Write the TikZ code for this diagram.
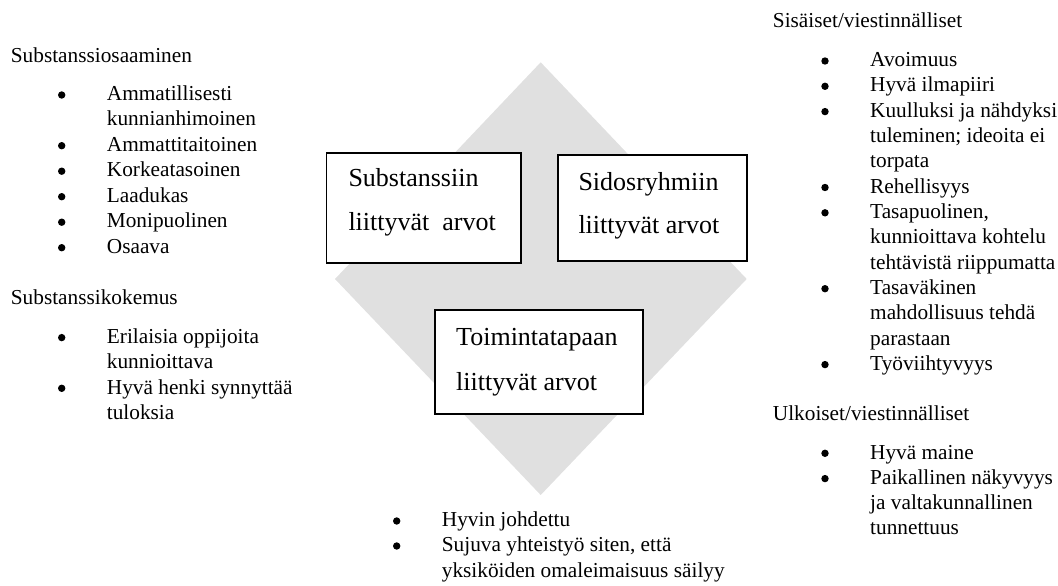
\documentclass[tikz,border=0pt]{standalone}
\usepackage{fontspec}
\setmainfont{Liberation Serif}
\begin{document}
\begin{tikzpicture}[x=1pt,y=-1pt,
  txt/.style={anchor=base west, inner sep=0, font=\fontsize{21.3}{25.3}\selectfont},
  bul/.style={circle, fill=black, inner sep=0, minimum size=7.4},
  box/.style={draw=black, line width=1.8, fill=white, inner sep=0, anchor=north west},
  boxtxt/.style={anchor=base west, inner sep=0},
  dia/.style={fill=black!12, draw=none}]
\useasboundingbox (0,0) rectangle (1058,586);
\newcommand\twol[2]{\vtop{\hbox{#1}\hbox{#2}}}
\newcommand\threel[3]{\vtop{\hbox{#1}\hbox{#2}\hbox{#3}}}
% diamond
\coordinate (dT) at (540.7,62.3);
\coordinate (dR) at (746.7,279);
\coordinate (dB) at (540.7,495);
\coordinate (dL) at (335,279);
\fill[dia] (dT) -- (dR) -- (dB) -- (dL) -- cycle;
% boxes
\node[box, minimum width=194.5, minimum height=109.4] (b1) at (325.5,152.3) {};
\node[boxtxt, font=\fontsize{26}{44}\selectfont] (b1t) at (348.3,186.7) {\twol{Substanssiin}{liittyvät\ \ arvot}};
\node[box, minimum width=189, minimum height=106] (b2) at (556.7,154) {};
\node[boxtxt, font=\fontsize{26}{43.3}\selectfont] (b2t) at (578.3,190) {\twol{Sidosryhmiin}{liittyvät arvot}};
\node[box, minimum width=208.3, minimum height=104] (b3) at (434,309.3) {};
\node[boxtxt, font=\fontsize{26}{45}\selectfont] (b3t) at (456,345) {\twol{Toimintatapaan}{liittyvät arvot}};
% left column
\node[txt] (h1) at (10.7,62.7) {Substanssiosaaminen};
\node[txt] (l1) at (106.7,100.7) {\twol{Ammatillisesti}{kunnianhimoinen}};
\node[txt] (l2) at (106.7,151.4) {Ammattitaitoinen};
\node[txt] (l3) at (106.7,176.9) {Korkeatasoinen};
\node[txt] (l4) at (106.7,202.4) {Laadukas};
\node[txt] (l5) at (106.7,227.9) {Monipuolinen};
\node[txt] (l6) at (106.7,253.4) {Osaava};
\foreach \y [count=\i] in {100.7,151.4,176.9,202.4,227.9,253.4}
  \node[bul] (lb\i) at (61.7,\y-5.7) {};
\node[txt] (h2) at (10.7,304) {Substanssikokemus};
\node[txt] (m1) at (106.7,343.3) {\twol{Erilaisia oppijoita}{kunnioittava}};
\node[txt] (m2) at (106.7,394) {\twol{Hyvä henki synnyttää}{tuloksia}};
\foreach \y [count=\i] in {343.3,394}
  \node[bul] (mb\i) at (61.7,\y-5.7) {};
% right column
\node[txt] (h3) at (772.7,27.3) {Sisäiset/viestinnälliset};
\node[txt] (r1) at (870,66.7) {Avoimuus};
\node[txt] (r2) at (870,92) {Hyvä ilmapiiri};
\node[txt] (r3) at (870,117.3) {\threel{Kuulluksi ja nähdyksi}{tuleminen; ideoita ei}{torpata}};
\node[txt] (r4) at (870,193.2) {Rehellisyys};
\node[txt] (r5) at (870,218.5) {\threel{Tasapuolinen,}{kunnioittava kohtelu}{tehtävistä riippumatta}};
\node[txt] (r6) at (870,294.4) {\threel{Tasaväkinen}{mahdollisuus tehdä}{parastaan}};
\node[txt] (r7) at (870,370.3) {Työviihtyvyys};
\foreach \y [count=\i] in {66.7,92,117.3,193.2,218.5,294.4,370.3}
  \node[bul] (rb\i) at (825,\y-5.7) {};
\node[txt] (h4) at (772.7,420) {Ulkoiset/viestinnälliset};
\node[txt] (s1) at (870,459) {Hyvä maine};
\node[txt] (s2) at (870,484.3) {\threel{Paikallinen näkyvyys}{ja valtakunnallinen}{tunnettuus}};
\foreach \y [count=\i] in {459,484.3}
  \node[bul] (sb\i) at (825,\y-5.7) {};
% bottom column
\node[txt] (t1) at (441.7,526.7) {Hyvin johdettu};
\node[txt] (t2) at (441.7,551.7) {\twol{Sujuva yhteistyö siten, että}{yksiköiden omaleimaisuus säilyy}};
\foreach \y [count=\i] in {526.7,551.7}
  \node[bul] (tb\i) at (396.7,\y-5.7) {};
\end{tikzpicture}
\end{document}
